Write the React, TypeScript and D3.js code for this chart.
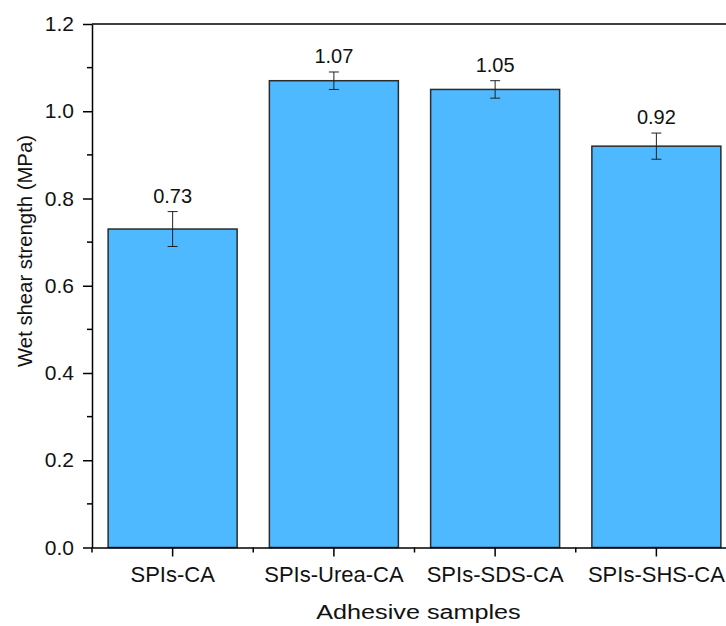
import React, { useRef, useEffect } from "react";
import * as d3 from "d3";

const categories = ["SPIs-CA", "SPIs-Urea-CA", "SPIs-SDS-CA", "SPIs-SHS-CA"];
const values = [0.73, 1.07, 1.05, 0.92];
const errors = [0.04, 0.02, 0.02, 0.03];
const yTicks = [0, 0.2, 0.4, 0.6, 0.8, 1.0, 1.2];

export default function App() {
  const svgRef = useRef<SVGSVGElement>(null);
  const width = 726;
  const height = 626;
  const marginLeft = 92;
  const plotRight = 737; // right frame sits just outside the picture
  const marginTop = 24;
  const plotBottom = 547.5;
  const font = "'Liberation Sans', Arial, Helvetica, sans-serif";

  useEffect(() => {
    const data = categories.map((c, i) => ({ name: c, value: values[i], err: errors[i] }));

    const x = d3.scaleBand<string>()
      .domain(categories)
      .range([marginLeft, plotRight])
      .padding(0);

    const y = d3.scaleLinear()
      .domain([0, 1.2])
      .range([plotBottom, marginTop]);

    const svg = d3.select(svgRef.current);
    svg.selectAll("*").remove();

    const inset = x.bandwidth() * 0.1;

    // bars
    svg.append("g")
      .selectAll("rect")
      .data(data)
      .join("rect")
      .attr("x", d => x(d.name)! + inset)
      .attr("y", d => y(d.value))
      .attr("width", x.bandwidth() - inset * 2)
      .attr("height", d => y(0) - y(d.value))
      .attr("fill", "#4FB9FF")
      .attr("stroke", "#2b2b2b")
      .attr("stroke-width", 1.5);

    // error bars
    const eb = svg.append("g").attr("stroke", "#222").attr("stroke-width", 1);
    data.forEach(d => {
      const cx = x(d.name)! + x.bandwidth() / 2;
      eb.append("line").attr("x1", cx).attr("x2", cx)
        .attr("y1", y(d.value + d.err)).attr("y2", y(d.value - d.err));
      eb.append("line").attr("x1", cx - 5).attr("x2", cx + 5)
        .attr("y1", y(d.value + d.err)).attr("y2", y(d.value + d.err));
      eb.append("line").attr("x1", cx - 5).attr("x2", cx + 5)
        .attr("y1", y(d.value - d.err)).attr("y2", y(d.value - d.err));
    });

    // value labels
    svg.append("g")
      .selectAll("text")
      .data(data)
      .join("text")
      .attr("x", d => x(d.name)! + x.bandwidth() / 2)
      .attr("y", d => y(d.value + d.err) - 9)
      .attr("text-anchor", "middle")
      .attr("font-family", font)
      .attr("font-size", 20)
      .attr("fill", "#111")
      .text(d => d.value.toFixed(2));

    // frame: top line
    svg.append("line")
      .attr("x1", marginLeft).attr("x2", plotRight)
      .attr("y1", marginTop).attr("y2", marginTop)
      .attr("stroke", "#000").attr("stroke-width", 1.5);

    // y axis
    const yAxis = svg.append("g")
      .attr("transform", `translate(${marginLeft},0)`)
      .call(d3.axisLeft(y).tickValues(yTicks).tickFormat(d3.format(".1f")).tickSize(9).tickSizeOuter(0));
    yAxis.select(".domain").attr("stroke-width", 1.5);
    yAxis.selectAll(".tick line").attr("stroke-width", 1.5);
    yAxis.selectAll(".tick text")
      .attr("x", -18)
      .attr("font-family", font)
      .attr("font-size", 21)
      .attr("fill", "#111");
    // minor y ticks
    svg.append("g")
      .selectAll("line")
      .data(d3.range(0.1, 1.2, 0.2))
      .join("line")
      .attr("x1", marginLeft - 5).attr("x2", marginLeft)
      .attr("y1", d => y(d)).attr("y2", d => y(d))
      .attr("stroke", "#000").attr("stroke-width", 1.5);

    // x axis
    const xAxis = svg.append("g")
      .attr("transform", `translate(0,${plotBottom})`)
      .call(d3.axisBottom(x).tickSize(9).tickSizeOuter(0));
    xAxis.select(".domain").attr("stroke-width", 1.5);
    xAxis.selectAll(".tick line").attr("stroke-width", 1.5);
    xAxis.selectAll(".tick text")
      .attr("y", 34)
      .attr("dy", 0)
      .attr("font-family", font)
      .attr("font-size", 22)
      .attr("fill", "#111");
    // minor x ticks on category boundaries
    svg.append("g")
      .selectAll("line")
      .data(categories.map(c => x(c)!))
      .join("line")
      .attr("x1", d => d).attr("x2", d => d)
      .attr("y1", plotBottom).attr("y2", plotBottom + 5)
      .attr("stroke", "#000").attr("stroke-width", 1.5);

    // axis titles
    svg.append("text")
      .attr("transform", `translate(${(marginLeft + plotRight) / 2 + 4},619) scale(1.2,1)`)
      .attr("text-anchor", "middle")
      .attr("font-family", font)
      .attr("font-size", 21)
      .attr("fill", "#111")
      .text("Adhesive samples");

    svg.append("text")
      .attr("transform", `translate(32,251) rotate(-90)`)
      .attr("text-anchor", "middle")
      .attr("font-family", font)
      .attr("font-size", 20.3)
      .attr("fill", "#111")
      .text("Wet shear strength (MPa)");
  }, []);

  return (
    <svg
      ref={svgRef}
      width={width}
      height={height}
      style={{ position: "absolute", left: 0, top: 0, background: "#fff" }}
    ></svg>
  );
}
